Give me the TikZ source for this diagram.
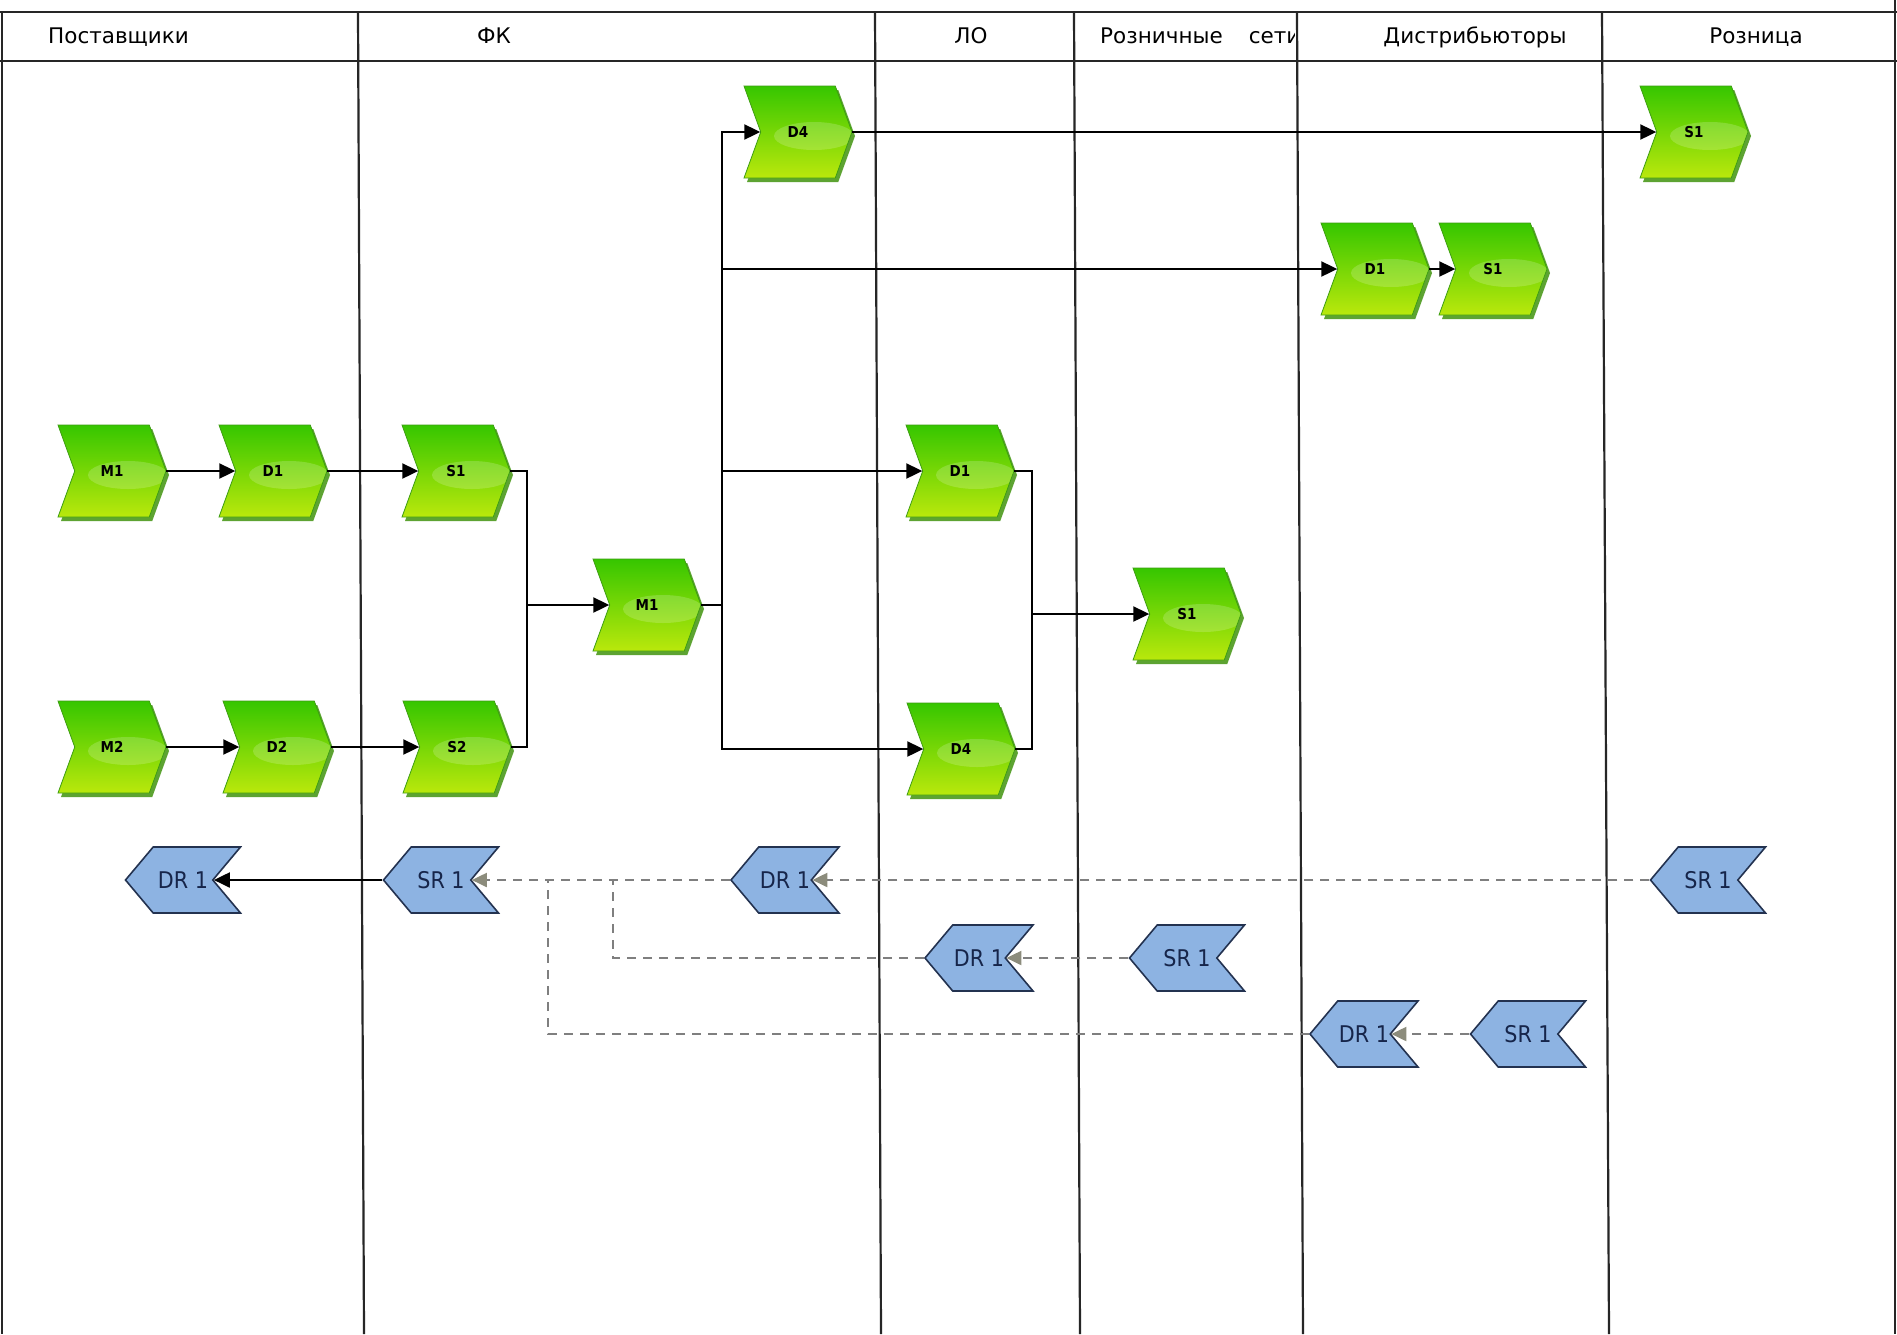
\documentclass[tikz,border=0pt]{standalone}
\usepackage{fontspec}
\setmainfont{DejaVu Sans}
\newfontfamily\condfont{DejaVu Sans Condensed}
\usetikzlibrary{shapes.symbols,arrows.meta,shadows}
\definecolor{gtop}{HTML}{36C600}
\definecolor{gbot}{HTML}{BAE80C}
\definecolor{gshadow}{HTML}{4C9A1C}
\definecolor{gedge}{HTML}{3E9E12}
\definecolor{bfill}{HTML}{8DB3E2}
\definecolor{bedge}{HTML}{233250}
\definecolor{btext}{HTML}{16254A}
\definecolor{dashgray}{HTML}{7F7F7F}
\definecolor{tipgray}{HTML}{8C8C7C}
\begin{document}
\begin{tikzpicture}[x=1pt,y=-1pt,
 gstep/.style={signal, signal to=east, signal from=west, signal pointer angle=140,
   minimum width=108pt, minimum height=92pt, inner sep=0pt,
   top color=gtop, bottom color=gbot, draw=gedge, line width=0.8pt,
   drop shadow={shadow xshift=3pt, shadow yshift=-4pt, fill=gshadow, opacity=0.9},
   path picture={\fill[white,opacity=0.18] ([xshift=16pt,yshift=-4pt]path picture bounding box.center) ellipse (40pt and 14pt);},
   font=\condfont\bfseries\fontsize{15}{15}\selectfont},
 bstep/.style={signal, signal to=west, signal from=east, signal pointer angle=100,
   minimum width=115pt, minimum height=66pt, inner sep=0pt,
   fill=bfill, draw=bedge, line width=1.6pt, text=btext,
   font=\condfont\fontsize{23}{23}\selectfont},
 flow/.style={draw=black, line width=2pt, -{Triangle[length=16pt,width=15pt]}},
 link/.style={draw=black, line width=2pt},
 ret/.style={draw=dashgray, line width=2pt, dash pattern=on 9pt off 7pt,
   -{Triangle[length=15pt,width=14pt,color=tipgray]}},
 retl/.style={draw=dashgray, line width=2pt, dash pattern=on 9pt off 7pt},
 lane/.style={line width=2.2pt, draw=black!85},
 head/.style={font=\fontsize{21.5}{21.5}\selectfont, inner sep=0pt, anchor=base}
]
\useasboundingbox (0,0) rectangle (1897,1334);
\fill[white] (0,0) rectangle (1897,1334);
% frame and lanes
\draw[lane] (0,12) -- (1897,12);
\draw[lane] (0,61) -- (1897,61);
\draw[lane] (2,12) -- (2,1334);
\draw[lane] (1895,0) -- (1895,1334);
\draw[lane] (358,12) -- (364,1334);
\draw[lane] (875,12) -- (881,1334);
\draw[lane] (1074,12) -- (1080,1334);
\draw[lane] (1297,12) -- (1303,1334);
\draw[lane] (1602,12) -- (1609,1334);
% headers
\node[head, anchor=base west] (hSup) at (48,43) {Поставщики};
\node[head] (hFK) at (494,43) {ФК};
\node[head] (hLO) at (971,43) {ЛО};
\begin{scope}
\clip (1076,14) rectangle (1294,60);
\node[head, anchor=base west] (hRS) at (1100,43) {Розничные\hspace{26pt}сети};
\end{scope}
\node[head] (hDis) at (1475,43) {Дистрибьюторы};
\node[head] (hRoz) at (1756,43) {Розница};
% green steps
\node[gstep] (M1s) at (112,471) {M1};
\node[gstep] (D1s) at (273,471) {D1};
\node[gstep] (S1f) at (456,471) {S1};
\node[gstep] (M2s) at (112,747) {M2};
\node[gstep] (D2s) at (277,747) {D2};
\node[gstep] (S2f) at (457,747) {S2};
\node[gstep] (M1f) at (647,605) {M1};
\node[gstep] (D4t) at (798,132) {D4};
\node[gstep] (S1t) at (1694,132) {S1};
\node[gstep] (D1d) at (1375,269) {D1};
\node[gstep] (S1d) at (1493,269) {S1};
\node[gstep] (D1l) at (960,471) {D1};
\node[gstep] (D4l) at (961,749) {D4};
\node[gstep] (S1r) at (1187,614) {S1};
% blue steps
\node[bstep] (DRs) at (183,880) {DR 1};
\node[bstep] (SRf) at (441,880) {SR 1};
\node[bstep, minimum width=108pt] (DRf) at (785,880) {DR 1};
\node[bstep] (SRr) at (1708,880) {SR 1};
\node[bstep, minimum width=108pt] (DRl) at (979,958) {DR 1};
\node[bstep] (SRrs) at (1187,958) {SR 1};
\node[bstep, minimum width=108pt] (DRd) at (1364,1034) {DR 1};
\node[bstep] (SRd) at (1528,1034) {SR 1};
% junctions
\coordinate (jA) at (527,605);
\coordinate (jB) at (722,605);
\coordinate (jC) at (1032,614);
\coordinate (jD) at (613,880);
\coordinate (jE) at (548,880);
% forward flows
\draw[flow] (M1s.east) -- (D1s.west);
\draw[flow] (D1s.east) -- (S1f.west);
\draw[flow] (M2s.east) -- (D2s.west);
\draw[flow] (D2s.east) -- (S2f.west);
\draw[link] (S1f.east) -| (jA);
\draw[link] (S2f.east) -| (jA);
\draw[flow] (jA) -- (M1f.west);
\draw[link] (M1f.east) -- (jB);
\draw[flow] (jB) |- (D4t.west);
\draw[flow] (jB) |- (D1d.west);
\draw[flow] (jB) |- (D1l.west);
\draw[flow] (jB) |- (D4l.west);
\draw[flow] (D4t.east) -- (S1t.west);
\draw[flow] (D1d.east) -- (S1d.west);
\draw[link] (D1l.east) -| (jC);
\draw[link] (D4l.east) -| (jC);
\draw[flow] (jC) -- (S1r.west);
% returns
\draw[flow] (SRf.west) -- (DRs.east);
\draw[ret] (SRr.west) -- (DRf.east);
\draw[ret] (DRf.west) -- (SRf.east);
\draw[ret] (SRrs.west) -- (DRl.east);
\draw[ret] (SRd.west) -- (DRd.east);
\draw[retl] (DRl.west) -| (jD);
\draw[retl] (DRd.west) -| (jE);
\end{tikzpicture}
\end{document}
